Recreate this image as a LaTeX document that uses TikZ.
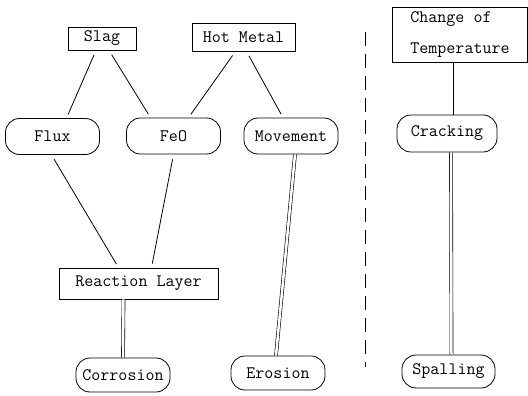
\documentclass[tikz,border=0pt]{standalone}

\begin{document}
\begin{tikzpicture}
  [x=1pt,y=-1pt,line width=.8pt,
   every node/.style={draw,font=\ttfamily\fontsize{17.5}{20}\selectfont,inner sep=0pt},
   box/.style={rectangle},
   pill/.style={rounded corners=14pt,minimum width=94pt,minimum height=36pt},
   link/.style={shorten <=5pt,shorten >=4pt},
   twin/.style={double,double distance=2.5pt,line width=.6pt}]
  \useasboundingbox (0,0) rectangle (528,396);
  \node[box,minimum width=68pt,minimum height=23pt] (slag) at (102,38.5) {Slag};
  \node[box,minimum width=103pt,minimum height=28pt] (hotmetal) at (243.5,37) {Hot Metal};
  \node[pill] (flux) at (52.5,136.5) {Flux};
  \node[pill] (feo) at (173.5,136) {FeO};
  \node[pill] (movement) at (291,136) {Movement};
  \node[box,minimum width=159pt,minimum height=31pt] (reaction) at (138.5,283.5) {Reaction Layer};
  \node[pill,minimum height=34pt] (corrosion) at (123,375) {Corrosion};
  \node[pill,minimum height=34pt] (erosion) at (278,373) {Erosion};
  \node[box,minimum width=135pt,minimum height=55pt,align=left,text depth=4pt] (change) at (460,34.5) {Change of\\[11pt]Temperature};
  \node[pill,minimum width=100pt,minimum height=37pt] (cracking) at (447,133.5) {Cracking};
  \node[pill,minimum width=93pt,minimum height=33pt] (spalling) at (448.5,371.5) {Spalling};

  % separator
  \coordinate (cut top) at (365,32);
  \coordinate (cut bottom) at (365,367);
  \draw[line width=1pt,dash pattern=on 14pt off 8pt] (cut top) -- (cut bottom);

  \foreach \from/\fs/\to/\ts in {slag/-6/flux/14,slag/7/feo/-23,hotmetal/-8/feo/15,hotmetal/3/movement/-8,flux/-1/reaction/-20,feo/0/reaction/13}
    \draw[link] ([xshift=\fs pt]\from.south) -- ([xshift=\ts pt]\to.north);
  \draw ([xshift=-7pt]change.south) -- ([xshift=6pt]cracking.north);

  \foreach \from/\fs/\to/\ts in {reaction/-15/corrosion/0,movement/4/erosion/-2,cracking/4/spalling/3}
    \draw[twin] ([xshift=\fs pt]\from.south) -- ([xshift=\ts pt]\to.north);
\end{tikzpicture}
\end{document}
